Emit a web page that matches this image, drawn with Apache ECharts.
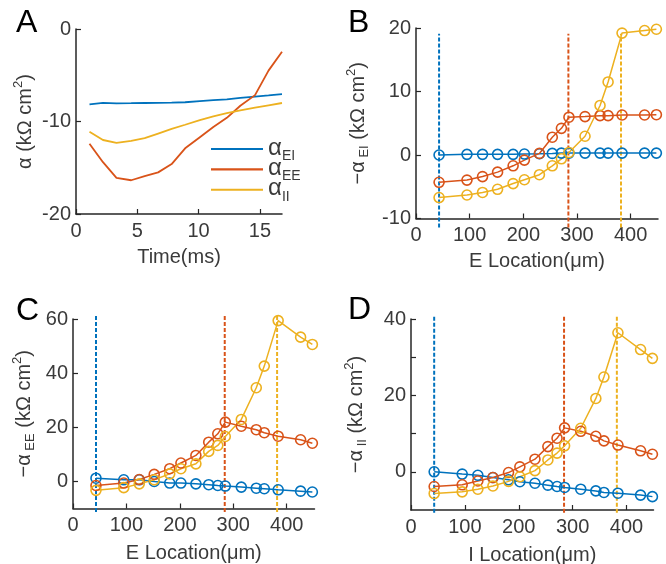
<!DOCTYPE html>
<html><head><meta charset="utf-8">
<script src="https://cdn.jsdelivr.net/npm/echarts@6/dist/echarts.min.js"></script>
<style>html,body{margin:0;padding:0;background:#fff}#c{width:666px;height:564px}</style>
</head><body><div id="c"></div>
<script>
// ---- Panel A: alpha vs time ----
const timeMs = [1.1, 2.2, 3.3, 4.5, 5.6, 6.7, 7.8, 8.9, 10.1, 11.2, 12.3, 13.4, 14.6, 15.7, 16.8];
const alphaEI = [-8.15, -7.98, -8.03, -8.02, -8.0, -7.98, -7.97, -7.92, -7.8, -7.7, -7.6, -7.45, -7.3, -7.18, -7.05];
const alphaEE = [-12.4, -14.4, -16.1, -16.35, -15.9, -15.5, -14.6, -12.9, -11.7, -10.6, -9.6, -8.3, -7.15, -4.5, -2.45];
const alphaII = [-11.1, -12.0, -12.3, -12.1, -11.8, -11.3, -10.8, -10.35, -9.85, -9.45, -9.1, -8.8, -8.5, -8.25, -8.0];

// ---- Location axis (um), shared by B, C, D ----
const locationUm = [43, 95, 124, 152, 181, 202, 230, 254, 271, 285, 315, 343, 358, 384, 426, 448];
const peakLocations = [43, 284, 382]; // blue, red, yellow dashed markers

// ---- Panel B: -alpha_EI ----
const bBlue = [0, 0.1, 0.1, 0.1, 0.1, 0.15, 0.2, 0.25, 0.3, 0.3, 0.3, 0.3, 0.3, 0.3, 0.3, 0.3];
const bRed = [-4.3, -3.95, -3.4, -2.7, -1.7, -0.8, 0.25, 2.8, 4.2, 5.95, 6.05, 6.2, 6.2, 6.3, 6.3, 6.35];
const bYellow = [-6.7, -6.3, -5.9, -5.4, -4.5, -3.9, -3.1, -1.7, -0.6, 0.4, 2.95, 7.8, 11.5, 19.2, 19.6, 19.8];

// ---- Panel C: -alpha_EE ----
const cBlue = [1.2, 0.6, 0.6, 0, -0.6, -0.6, -0.9, -1.2, -1.5, -1.7, -2.1, -2.5, -2.7, -3.1, -3.6, -3.9];
const cRed = [-1.5, -0.6, 0.7, 2.6, 4.7, 6.8, 9.6, 14.5, 17.6, 21.9, 20.4, 19.1, 18.0, 16.7, 15.4, 14.1];
const cYellow = [-3.3, -2.3, -0.9, 0.6, 2.8, 4.7, 6.5, 11.1, 13.3, 16.6, 22.9, 34.6, 42.6, 59.4, 53.3, 50.6];

// ---- Panel D: -alpha_II ----
const dBlue = [0, -0.6, -0.9, -1.5, -2.1, -2.6, -3.0, -3.5, -3.85, -4.1, -4.55, -5.0, -5.4, -5.6, -6.1, -6.5];
const dRed = [-3.85, -3.4, -2.4, -1.5, -0.2, 1.3, 3.3, 6.6, 8.8, 11.5, 10.6, 9.3, 8.1, 7.0, 5.5, 4.6];
const dYellow = [-5.7, -5.25, -4.55, -3.7, -2.5, -1.3, 0.3, 3.1, 4.9, 6.8, 11.4, 19.2, 24.8, 36.4, 32.0, 29.7];

// tick labels
const aXTicks = [0, 5, 10, 15], aYTicks = [-20, -10, 0];
const bXTicks = [0, 100, 200, 300, 400], bYTicks = [-10, 0, 10, 20];
const cYTicks = [0, 20, 40, 60];
const dYTickMarks = [0, 10, 20, 30, 40], dYTicks = [0, 20, 40];
const dashRanges = [[-11.4, 19.1], [-11.3, 61.5], [-10.7, 41]];

const BLUE = '#0072BD', RED = '#D95319', YEL = '#EDB120';
const FONT = 'Liberation Sans, Arial, Helvetica, sans-serif';
const TXT = '#3a3a3a';
const rich = {
  n: {fontSize: 20, fontFamily: FONT, color: TXT, lineHeight: 26},
  s: {fontSize: 13, fontFamily: FONT, color: TXT, verticalAlign: 'bottom', lineHeight: 13, padding: [0, 0, 0, 0]},
  p: {fontSize: 13, fontFamily: FONT, color: TXT, verticalAlign: 'top', lineHeight: 13}
};

const grids = [
  {left: 76, top: 29, width: 206, height: 185},
  {left: 416, top: 28, width: 242, height: 190.5},
  {left: 73, top: 319, width: 241.5, height: 189.5},
  {left: 411, top: 319, width: 242.5, height: 191}
].map(g => Object.assign({containLabel: false, outerBoundsMode: 'none'}, g));

function axisBase(){
  return {
    axisLine: {show: true, onZero: false, lineStyle: {color: '#262626', width: 1.5}},
    axisTick: {show: true, inside: true, length: 5, lineStyle: {color: '#262626', width: 1.2}},
    axisLabel: {color: TXT, fontSize: 20, fontFamily: FONT, margin: 6},
    splitLine: {show: false},
    nameTextStyle: {color: TXT, fontSize: 20, fontFamily: FONT, rich: rich},
    nameLocation: 'middle'
  };
}
function xAx(idx, min, max, interval, ticks, name, gap){
  const a = axisBase();
  return Object.assign(a, {type: 'value', gridIndex: idx, min: min, max: max, interval: interval,
    name: name, nameGap: gap,
    axisTick: Object.assign(a.axisTick, {customValues: ticks}),
    axisLabel: Object.assign(a.axisLabel, {customValues: ticks, margin: 7})});
}
function yAx(idx, min, max, tickMarks, labels, name, gap){
  const a = axisBase();
  return Object.assign(a, {type: 'value', gridIndex: idx, min: min, max: max, interval: 10,
    name: name, nameGap: gap, nameRotate: 90,
    axisTick: Object.assign(a.axisTick, {customValues: tickMarks}),
    axisLabel: Object.assign(a.axisLabel, {customValues: labels, margin: 5})});
}

const xAxes = [
  xAx(0, 0, 16.8, 5, aXTicks, 'Time(ms)', 33),
  xAx(1, 0, 451, 100, bXTicks, 'E Location(μm)', 33),
  xAx(2, 0, 452, 100, bXTicks, 'E Location(μm)', 35),
  xAx(3, 0, 450, 100, bXTicks, 'I Location(μm)', 35)
];
const yAxes = [
  yAx(0, -20, 0, aYTicks, aYTicks, '{n|α (kΩ cm}{p|2}{n|)}', 38),
  yAx(1, -10, 20, bYTicks, bYTicks, '{n|−α}{s| EI}{n| (kΩ cm}{p|2}{n|)}', 45),
  yAx(2, -10, 60, cYTicks, cYTicks, '{n|−α}{s| EE}{n| (kΩ cm}{p|2}{n|)}', 36),
  yAx(3, -10, 40, dYTickMarks, dYTicks, '{n|−α}{s| II}{n| (kΩ cm}{p|2}{n|)}', 42)
];

function zip(xs, ys){ return xs.map((x, i) => [x, ys[i]]); }
const series = [];
// Panel A lines
[['EI', alphaEI, BLUE], ['EE', alphaEE, RED], ['II', alphaII, YEL]].forEach(([nm, ys, c]) => {
  series.push({type: 'line', name: nm, xAxisIndex: 0, yAxisIndex: 0, data: zip(timeMs, ys),
    symbol: 'none', lineStyle: {color: c, width: 1.8}, itemStyle: {color: c}, animation: false});
});
// Panels B-D
const panels = [[bBlue, bRed, bYellow], [cBlue, cRed, cYellow], [dBlue, dRed, dYellow]];
const cols = [BLUE, RED, YEL];
panels.forEach((sets, p) => {
  const gi = p + 1;
  peakLocations.forEach((x, k) => {
    series.push({type: 'line', xAxisIndex: gi, yAxisIndex: gi, clip: false, silent: true,
      data: [[x, dashRanges[p][0]], [x, dashRanges[p][1]]], symbol: 'none',
      lineStyle: {color: cols[k], width: 2, type: [4, 2]}, animation: false, z: 1});
  });
  sets.forEach((ys, k) => {
    series.push({type: 'line', xAxisIndex: gi, yAxisIndex: gi, data: zip(locationUm, ys),
      symbol: 'circle', symbolSize: 10, showSymbol: true,
      itemStyle: {color: 'rgba(0,0,0,0)', borderColor: cols[k], borderWidth: 1.6},
      lineStyle: {color: cols[k], width: 1.5}, animation: false, z: 2});
  });
});

const letters = [['A', 16, 7], ['B', 348, 7], ['C', 16, 295], ['D', 348, 294]];
const chart = echarts.init(document.getElementById('c'), null, {renderer: 'canvas'});
chart.setOption({
  animation: false,
  backgroundColor: '#fff',
  grid: grids,
  xAxis: xAxes,
  yAxis: yAxes,
  legend: {
    show: true, orient: 'vertical', left: 211, top: 136, padding: 0,
    itemWidth: 52, itemHeight: 12, itemGap: -6.6,
    data: ['EI', 'EE', 'II'], icon: 'path://M0,5L50,5L50,7L0,7Z',
    formatter: n => '{a|α}{s|' + n + '}',
    textStyle: {rich: {
      a: {fontSize: 24, fontFamily: FONT, color: TXT, verticalAlign: 'top', padding: [1, 0, 3, 0]},
      s: {fontSize: 14, fontFamily: FONT, color: TXT, verticalAlign: 'bottom'}
    }}
  },
  graphic: letters.map(([t, x, y]) => ({type: 'text', left: x, top: y,
    style: {text: t, font: '32px ' + FONT, fill: '#000'}})),
  series: series
});
</script></body></html>
